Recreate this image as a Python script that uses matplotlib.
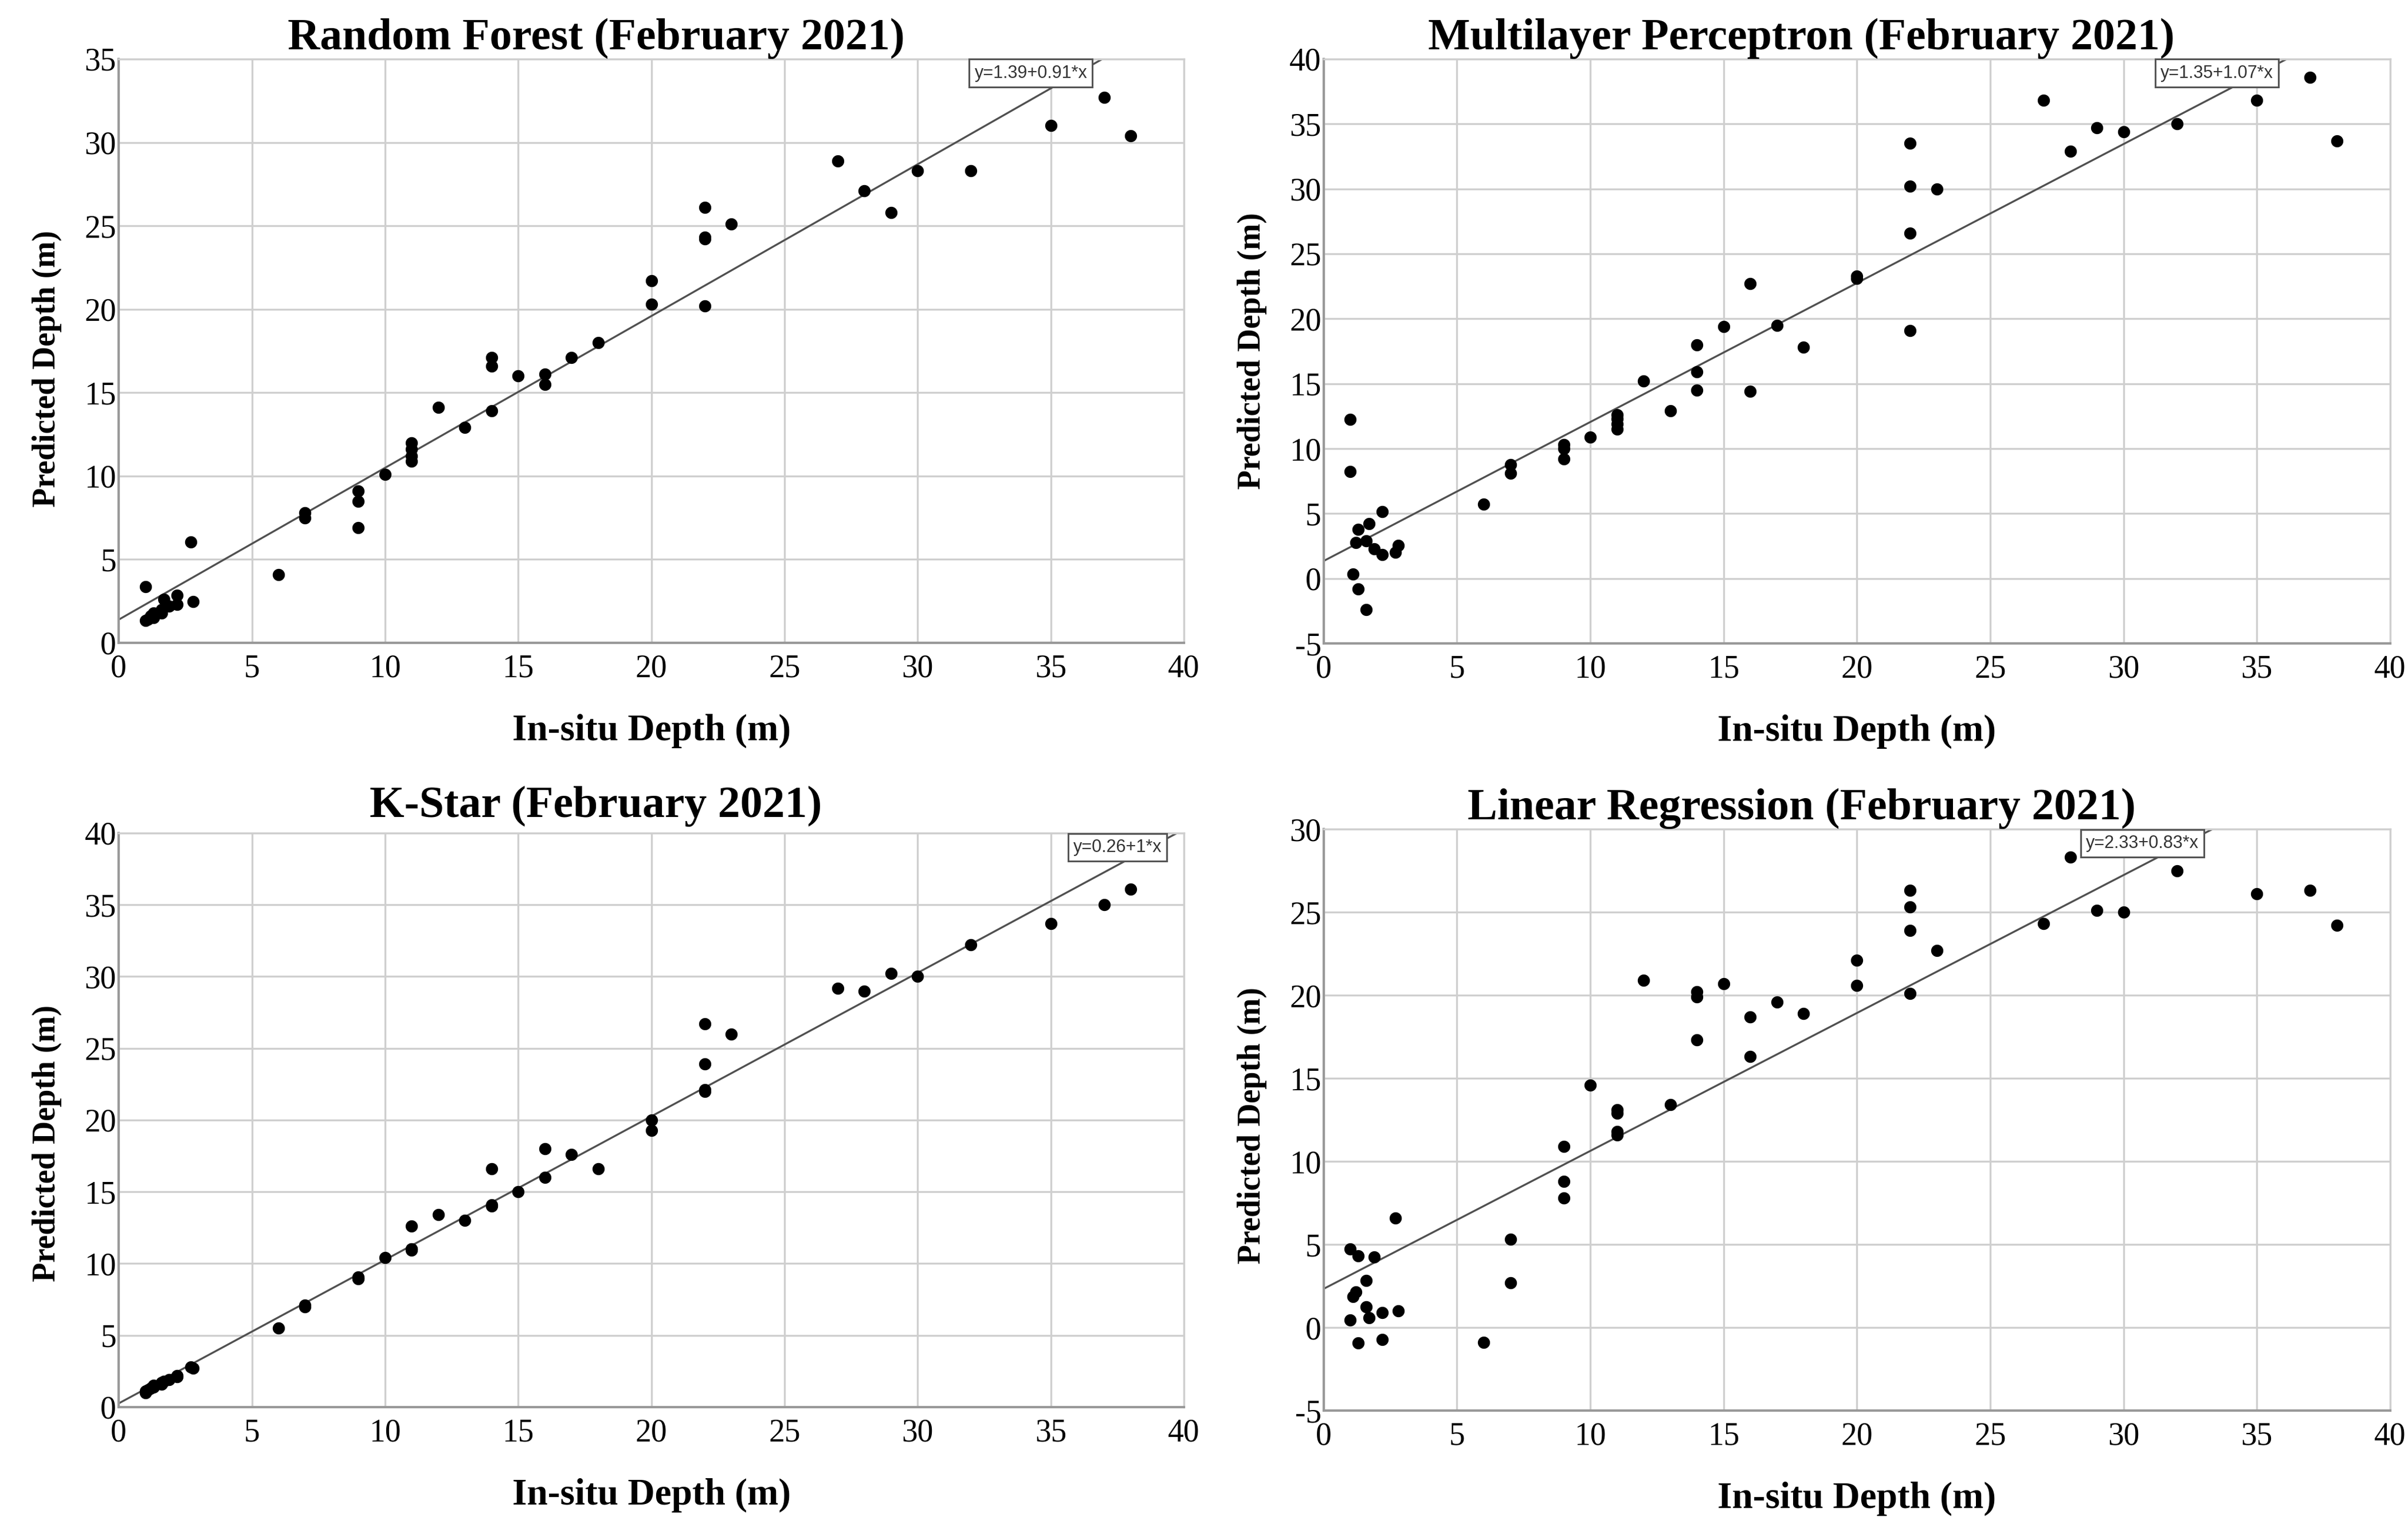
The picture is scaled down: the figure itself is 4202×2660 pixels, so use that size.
import numpy as np
import matplotlib
matplotlib.use('Agg')
from matplotlib import pyplot as plt

plt.rcParams['font.family'] = ['Liberation Serif', 'DejaVu Serif']
plt.rcParams['axes.unicode_minus'] = False

# in-situ depth (same stations for every model)
insitu = [1.0, 1.0, 1.1, 1.2, 1.3, 1.3, 1.6, 1.6, 1.7, 1.9, 2.2, 2.2, 2.7, 2.8,
          6, 7, 7, 9, 9, 9, 10, 11, 11, 11, 11, 12, 13, 14, 14, 14, 15, 16, 16,
          17, 18, 20, 20, 22, 22, 22, 22, 23, 27, 28, 29, 30, 32, 35, 37, 38]

rf = [3.36, 1.35, 1.4, 1.6, 1.8, 1.5, 1.8, 2.0, 2.6, 2.2, 2.85, 2.3, 6.05, 2.47,
      4.1, 7.8, 7.5, 9.1, 8.5, 6.9, 10.1, 12.0, 11.6, 11.2, 10.9, 14.1, 12.9,
      17.1, 16.6, 13.9, 16.0, 16.1, 15.5, 17.1, 18.0, 21.7, 20.3,
      26.1, 24.3, 24.2, 20.2, 25.1, 28.9, 27.1, 25.8, 28.3, 28.3, 31.0, 32.7, 30.4]

mlp = [12.25, 8.23, 0.33, 2.78, 3.76, -0.82, 2.9, -2.41, 4.21, 2.3, 1.86, 5.13, 2.0, 2.53,
       5.7, 8.75, 8.1, 10.3, 10.0, 9.2, 10.9, 12.6, 12.3, 11.9, 11.5, 15.2, 12.9,
       18.0, 15.9, 14.5, 19.4, 22.7, 14.4, 19.5, 17.8, 23.3, 23.1,
       33.5, 30.2, 26.6, 19.1, 30.0, 36.8, 32.9, 34.7, 34.4, 35.0, 36.8, 38.6, 33.7]

kstar = [1.0, 1.1, 1.2, 1.3, 1.4, 1.5, 1.6, 1.7, 1.8, 1.9, 2.1, 2.2, 2.8, 2.7,
         5.5, 7.1, 7.0, 9.0, 9.05, 8.95, 10.4, 12.6, 11.0, 11.0, 10.95, 13.4, 13.0,
         16.6, 14.0, 14.1, 15.0, 18.0, 16.0, 17.6, 16.6, 20.0, 19.3,
         26.7, 23.9, 22.1, 22.0, 26.0, 29.2, 29.0, 30.2, 30.0, 32.2, 33.7, 35.0, 36.1]

lr = [4.73, 0.45, 1.88, 2.14, 4.32, -0.93, 2.83, 1.24, 0.6, 4.26, 0.89, -0.73, 6.6, 1.01,
      -0.9, 5.3, 2.7, 10.9, 8.8, 7.8, 14.6, 13.1, 12.9, 11.8, 11.6, 20.9, 13.4,
      20.2, 19.9, 17.3, 20.7, 18.7, 16.3, 19.6, 18.9, 22.1, 20.6,
      26.3, 25.3, 23.9, 20.1, 22.7, 24.3, 28.3, 25.1, 25.0, 27.5, 26.1, 26.3, 24.2]

titles = ['Random Forest (February 2021)', 'Multilayer Perceptron (February 2021)',
          'K-Star (February 2021)', 'Linear Regression (February 2021)']
preds = [rf, mlp, kstar, lr]
intercepts = [1.39, 1.35, 0.26, 2.33]
slopes = [0.91, 1.07, 1, 0.83]
eq_labels = ['y=1.39+0.91*x', 'y=1.35+1.07*x', 'y=0.26+1*x', 'y=2.33+0.83*x']
eq_xpos = [34.25, 33.5, 37.5, 30.7]
ylims = [(0, 35), (-5, 40), (0, 40), (-5, 30)]
title_pads = [12, 12, 20, 12]
ylabel_pos = [0.47, 0.5, 0.46, 0.49]

# axes rectangles in figure fraction
rects = [[0.0493, 0.5782, 0.4424, 0.3831],
         [0.5497, 0.5778, 0.4429, 0.3835],
         [0.0493, 0.0767, 0.4424, 0.3767],
         [0.5497, 0.0744, 0.4429, 0.3816]]

serif = 'Liberation Serif'
fig = plt.figure(figsize=(42.02, 26.6), dpi=100)

for i in range(4):
    ax = fig.add_axes(rects[i])
    ax.set_xlim(0, 40)
    ax.set_ylim(*ylims[i])
    xt = np.arange(0, 41, 5)
    yt = np.arange(ylims[i][0], ylims[i][1] + 1, 5)
    ax.set_xticks(xt, labels=[str(v) for v in xt], fontfamily=serif, fontsize=40)
    ax.set_yticks(yt, labels=[str(v) for v in yt], fontfamily=serif, fontsize=40)
    ax.grid(True, color='#cfcfcf', linewidth=2.4, zorder=0)
    for s in ['top', 'right']:
        ax.spines[s].set_color('#cfcfcf')
        ax.spines[s].set_linewidth(2.4)
    for s in ['left', 'bottom']:
        ax.spines[s].set_color('#999999')
        ax.spines[s].set_linewidth(3)
    ax.tick_params(length=0)
    ax.tick_params(axis='x', pad=14)
    ax.tick_params(axis='y', pad=3)

    # fit line
    xx = np.array([0, 40])
    ax.plot(xx, intercepts[i] + slopes[i] * xx, color='#505050', linewidth=2.4, zorder=2)
    ax.scatter(insitu, preds[i], s=235, color='black', zorder=3, linewidths=0)

    ax.annotate(eq_labels[i], xy=(eq_xpos[i], 1), xycoords=('data', 'axes fraction'),
                xytext=(0, -7), textcoords='offset points', ha='center', va='top',
                fontsize=22, family='Liberation Sans', color='#333333', zorder=5,
                bbox=dict(boxstyle='square,pad=0.3', fc='white', ec='#555555', lw=2.2),
                annotation_clip=False)

    ax.set_title(titles[i], fontsize=56, fontweight='bold', family=serif,
                 x=0.448, pad=title_pads[i])
    ax.set_xlabel('In-situ Depth (m)', fontsize=47, fontweight='bold', family=serif, labelpad=38)
    ax.set_ylabel('Predicted Depth (m)', fontsize=40, fontweight='bold', family=serif, labelpad=28)
    ax.yaxis.label.set_y(ylabel_pos[i])

fig.savefig('out.png', dpi=100, facecolor='white')
